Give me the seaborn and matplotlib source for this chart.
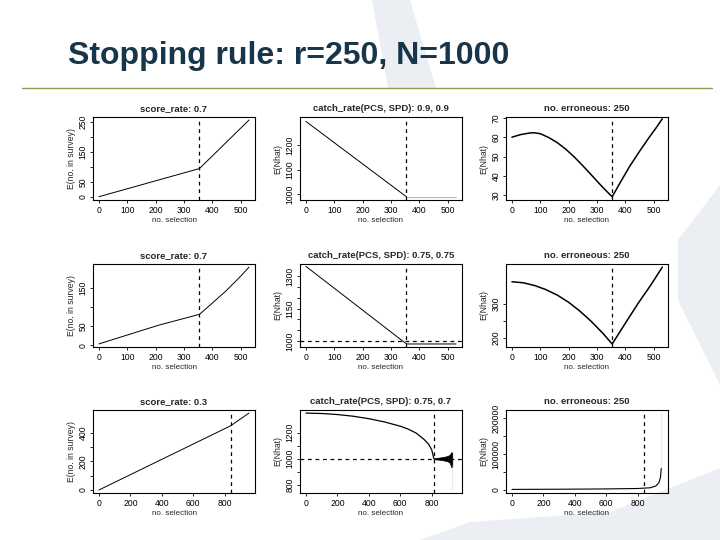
import matplotlib
matplotlib.use("Agg")
import matplotlib.pyplot as plt
from matplotlib.patches import Polygon
from matplotlib.lines import Line2D
import seaborn as sns

# values
stop_12 = 352                      # stopping point, rows 1-2
stop_3 = [838, 814, 838]           # stopping points, row 3
N = 1000

# row 1
r1_score_x = [0, 355, 530]
r1_score_y = [1, 95, 257]
r1_catch_x = [0, 355]
r1_catch_y = [1295, 990]
r1_catch_tail_x = [355, 530]
r1_catch_tail_y = [990, 990]
r1_err_x = [0, 30, 60, 76, 100, 130, 160, 190, 220, 250, 280, 310, 335, 354,
            380, 415, 450, 485, 510, 531]
r1_err_y = [60, 61.3, 62.1, 62.3, 61.8, 59.8, 57.2, 53.8, 49.8, 45.3, 40.6, 35.8, 32.0, 29.3,
            36.0, 44.8, 52.6, 60.0, 65.0, 69.5]

# row 2
r2_score_x = [0, 95, 212, 355, 400, 450, 500, 530]
r2_score_y = [4, 26, 53, 81, 110, 143, 180, 204]
r2_catch_x = [0, 355, 530]
r2_catch_y = [1345, 986, 986]
r2_err_x = [0, 40, 80, 120, 160, 200, 240, 280, 320, 354, 400, 444, 490, 531]
r2_err_y = [365, 362, 354, 342, 326, 305, 279, 249, 215, 183, 243, 300, 355, 408]

# row 3
r3_score_x = [0, 838, 955]
r3_score_y = [0, 447, 536]
r3_catch_x = [0, 100, 200, 300, 400, 500, 600, 650, 700, 750, 780, 800, 814]
r3_catch_y = [1351, 1348, 1340, 1327, 1308, 1283, 1250, 1228, 1198, 1150, 1112, 1070, 1000]
r3_band_x = [814, 840, 870, 900, 915, 925, 931]
r3_band_hi = [1003, 1007, 1012, 1020, 1030, 1050, 1045]
r3_band_lo = [997, 993, 988, 980, 968, 935, 940]
r3_drop_x = [929, 929]
r3_drop_y = [960, 756]
r3_err_x = [0, 200, 400, 600, 800, 880, 915, 935, 945, 950]
r3_err_y = [1500, 1800, 2200, 2800, 4000, 6000, 11000, 20000, 35000, 60000]
r3_spike_x = [951, 951]
r3_spike_y = [60000, 215000]

sns.set_theme(style="ticks")
plt.rcParams["font.family"] = ["Liberation Sans", "DejaVu Sans"]

fig = plt.figure(figsize=(7.2, 5.4), dpi=100)


def px(x, y):
    return (x / 720, 1 - y / 540)


# light watermark shapes of the slide template
wm = "#ebeff4"
for pts in [
    [(372, 0), (410, 0), (436, 88), (388, 88)],
    [(720, 185), (678, 240), (678, 300), (720, 385)],
    [(420, 540), (470, 522), (610, 512), (720, 468), (720, 540)],
]:
    fig.add_artist(Polygon([px(*p) for p in pts], closed=True, facecolor=wm,
                           edgecolor="none", transform=fig.transFigure, zorder=0))

fig.text(68 / 720, 1 - 56 / 540, "Stopping rule: r=250, N=1000", fontsize=23,
         fontweight="bold", color="#17364a", va="center", ha="left")
fig.add_artist(Line2D([22 / 720, 712 / 720], [1 - 88 / 540] * 2, color="#8f9b48",
                      lw=1.0, transform=fig.transFigure))

lefts = [93, 300, 506]
tops = [117, 264, 410]
W, H = 162, 83


def make_ax(r, c):
    x0, y0 = px(lefts[c], tops[r] + H)
    ax = fig.add_axes([x0, y0, W / 720, H / 540])
    ax.set_facecolor("none")
    return ax


def r_style(ax, title, ylabel, xticks, xlim, yticks, ylabels, ylim):
    ax.set_xlim(xlim)
    ax.set_ylim(ylim)
    ax.set_xticks(xticks)
    ax.set_xticklabels([str(t) for t in xticks])
    ax.set_yticks(yticks)
    ax.set_yticklabels(ylabels, rotation=90, va="center")
    ax.set_title(title, fontsize=6.8, fontweight="bold", pad=4)
    ax.set_xlabel("no. selection", fontsize=5.8, labelpad=2)
    ax.set_ylabel(ylabel, fontsize=6.2, labelpad=2)
    for s in ax.spines.values():
        s.set_visible(True)
        s.set_linewidth(0.8)
        s.set_color("black")
    ax.tick_params(length=2.5, width=0.6, labelsize=6.2, pad=1.5, colors="black")


def vdash(ax, x):
    ax.axvline(x, color="black", lw=0.9, ls=(0, (3, 3)))


def hdash(ax, y):
    ax.axhline(y, color="black", lw=0.9, ls=(0, (3, 3)))


x12 = [0, 100, 200, 300, 400, 500]
x3 = [0, 200, 400, 600, 800]
lim12 = (-21, 551)
lim3 = (-38, 993)

# row 1
ax = make_ax(0, 0)
sns.lineplot(x=r1_score_x, y=r1_score_y, ax=ax, color="black", lw=0.7)
vdash(ax, stop_12)
r_style(ax, "score_rate: 0.7", "E(no. in survey)", x12, lim12,
        [0, 50, 100, 150, 200, 250], ["0", "50", "", "150", "", "250"], (-10, 267))

ax = make_ax(0, 1)
sns.lineplot(x=r1_catch_x, y=r1_catch_y, ax=ax, color="black", lw=0.7)
sns.lineplot(x=r1_catch_tail_x, y=r1_catch_tail_y, ax=ax, color="#b0b0b0", lw=0.7)
vdash(ax, stop_12)
r_style(ax, "catch_rate(PCS, SPD): 0.9, 0.9", "E(Nhat)", x12, lim12,
        [1000, 1100, 1200], ["1000", "1100", "1200"], (977, 1313))

ax = make_ax(0, 2)
sns.lineplot(x=r1_err_x, y=r1_err_y, ax=ax, color="black", lw=1.1)
vdash(ax, stop_12)
r_style(ax, "no. erroneous: 250", "E(Nhat)", x12, lim12,
        [30, 40, 50, 60, 70], ["30", "40", "50", "60", "70"], (27.6, 70.4))

# row 2
ax = make_ax(1, 0)
sns.lineplot(x=r2_score_x, y=r2_score_y, ax=ax, color="black", lw=0.7)
vdash(ax, stop_12)
r_style(ax, "score_rate: 0.7", "E(no. in survey)", x12, lim12,
        [0, 50, 100, 150], ["0", "50", "", "150"], (-4, 212))

ax = make_ax(1, 1)
sns.lineplot(x=r2_catch_x, y=r2_catch_y, ax=ax, color="black", lw=0.7)
vdash(ax, stop_12)
hdash(ax, N)
r_style(ax, "catch_rate(PCS, SPD): 0.75, 0.75", "E(Nhat)", x12, lim12,
        [1000, 1050, 1100, 1150, 1200, 1250, 1300],
        ["1000", "", "", "1150", "", "", "1300"], (972, 1356))

ax = make_ax(1, 2)
sns.lineplot(x=r2_err_x, y=r2_err_y, ax=ax, color="black", lw=1.1)
vdash(ax, stop_12)
r_style(ax, "no. erroneous: 250", "E(Nhat)", x12, lim12,
        [200, 250, 300], ["200", "", "300"], (174, 417))

# row 3
ax = make_ax(2, 0)
sns.lineplot(x=r3_score_x, y=r3_score_y, ax=ax, color="black", lw=0.7)
vdash(ax, stop_3[0])
r_style(ax, "score_rate: 0.3", "E(no. in survey)", x3, lim3,
        [0, 100, 200, 300, 400], ["0", "", "200", "", "400"], (-21, 557))

ax = make_ax(2, 1)
sns.lineplot(x=r3_catch_x, y=r3_catch_y, ax=ax, color="black", lw=0.9)
ax.fill_between(r3_band_x, r3_band_lo, r3_band_hi, color="black", lw=0.5)
sns.lineplot(x=r3_drop_x, y=r3_drop_y, ax=ax, color="#9a9a9a", lw=0.8, sort=False)
vdash(ax, stop_3[1])
hdash(ax, N)
r_style(ax, "catch_rate(PCS, SPD): 0.75, 0.7", "E(Nhat)", x3, lim3,
        [800, 900, 1000, 1100, 1200], ["800", "", "1000", "", "1200"], (735, 1375))

ax = make_ax(2, 2)
sns.lineplot(x=r3_err_x, y=r3_err_y, ax=ax, color="black", lw=0.8)
sns.lineplot(x=r3_spike_x, y=r3_spike_y, ax=ax, color="#9a9a9a", lw=1.2, sort=False)
vdash(ax, stop_3[2])
r_style(ax, "no. erroneous: 250", "E(Nhat)", x3, lim3,
        [0, 50000, 100000, 150000, 200000], ["0", "", "100000", "", "200000"],
        (-8600, 223600))

fig.savefig("out.png", dpi=100)
